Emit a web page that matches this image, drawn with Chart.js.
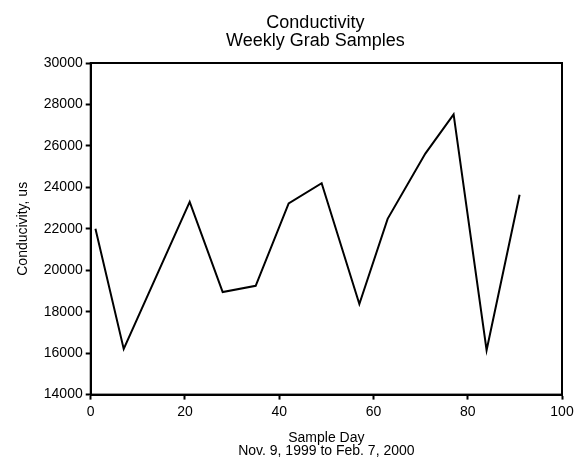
<!DOCTYPE html>
<html>
<head>
<meta charset="utf-8">
<script src="https://cdn.jsdelivr.net/npm/chart.js@4/dist/chart.umd.min.js"></script>
<style>
html,body{margin:0;padding:0;background:#fff;}
#wrap{width:583px;height:463px;}
</style>
</head>
<body>
<div id="wrap"><canvas id="c" width="583" height="463"></canvas></div>
<script>
const sampleDays = [1, 7, 21, 28, 35, 42, 49, 57, 63, 71, 77, 84, 91];
const conductivity = [22000, 16200, 23300, 18950, 19250, 23230, 24200, 18370, 22480, 25630, 27520, 16140, 23640];
const titleLines = ['Conductivity', 'Weekly Grab Samples'];
const xTitleLines = ['Sample Day', 'Nov. 9, 1999 to Feb. 7, 2000'];
const yTitle = 'Conducivity, us';

const FONT = '"Liberation Sans", Arial, sans-serif';

const frame = {
  id: 'frame',
  afterDatasetsDraw(chart) {
    const {ctx, chartArea: a} = chart;
    ctx.save();
    ctx.strokeStyle = '#000';
    ctx.lineWidth = 2;
    ctx.strokeRect(a.left, a.top, a.right - a.left, a.bottom - a.top);
    ctx.restore();
  }
};

const headTitle = {
  id: 'headTitle',
  afterDraw(chart) {
    const ctx = chart.ctx;
    const cx = (chart.chartArea.left + chart.chartArea.right) / 2 - 11;
    ctx.save();
    ctx.fillStyle = '#000';
    ctx.font = '18px ' + FONT;
    ctx.textAlign = 'center';
    ctx.textBaseline = 'alphabetic';
    titleLines.forEach((t, i) => ctx.fillText(t, cx, 27.5 + i * 18.7));
    ctx.restore();
  }
};

new Chart(document.getElementById('c'), {
  type: 'scatter',
  data: {
    datasets: [{
      data: sampleDays.map((d, i) => ({x: d, y: conductivity[i]})),
      showLine: true,
      borderColor: '#000',
      borderWidth: 2,
      pointRadius: 0,
      fill: false,
      tension: 0
    }]
  },
  options: {
    responsive: false,
    animation: false,
    devicePixelRatio: 1,
    layout: {padding: {left: 15, right: 21, top: 63, bottom: 5}},
    plugins: {
      legend: {display: false},
      tooltip: {enabled: false},
      title: {display: false}
    },
    scales: {
      x: {
        type: 'linear',
        min: 0, max: 100,
        ticks: {stepSize: 20, color: '#000', font: {family: FONT, size: 14}, padding: 4, maxRotation: 0,
                callback: v => String(v)},
        grid: {display: true, drawOnChartArea: false, drawTicks: true, tickLength: 5, tickColor: '#000', tickWidth: 2},
        border: {display: true, color: '#000', width: 2},
        title: {display: true, text: xTitleLines, color: '#000', font: {family: FONT, size: 14, lineHeight: 0.95}, padding: {top: 7, bottom: 0}}
      },
      y: {
        type: 'linear',
        min: 14000, max: 30000,
        ticks: {stepSize: 2000, color: '#000', font: {family: FONT, size: 14}, padding: 3,
                callback: v => String(v)},
        grid: {display: true, drawOnChartArea: false, drawTicks: true, tickLength: 5, tickColor: '#000', tickWidth: 2},
        border: {display: true, color: '#000', width: 2},
        title: {display: true, text: yTitle, color: '#000', font: {family: FONT, size: 14}, padding: {top: 0, bottom: 9}}
      }
    }
  },
  plugins: [frame, headTitle]
});
</script>
</body>
</html>
